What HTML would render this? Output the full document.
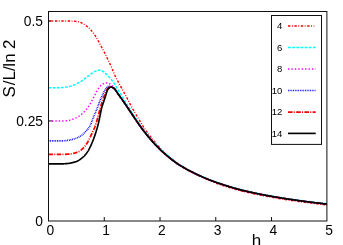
<!DOCTYPE html>
<html><head><meta charset="utf-8"><title>plot</title>
<style>
html,body{margin:0;padding:0;background:#fff;overflow:hidden}
body{width:343px;height:245px;position:relative}
svg text{font-family:"Liberation Sans",sans-serif;fill:#000}
</style></head><body>
<svg width="343" height="245" viewBox="0 0 343 245" style="position:absolute;left:0;top:0;will-change:transform">
<line x1="104.26" y1="221" x2="104.26" y2="217" stroke="#111" stroke-width="1"/>
<line x1="160.02" y1="221" x2="160.02" y2="217" stroke="#111" stroke-width="1"/>
<line x1="215.78" y1="221" x2="215.78" y2="217" stroke="#111" stroke-width="1"/>
<line x1="271.54" y1="221" x2="271.54" y2="217" stroke="#111" stroke-width="1"/>
<line x1="48.5" y1="120.95" x2="52.5" y2="120.95" stroke="#111" stroke-width="1"/>
<line x1="48.5" y1="21.00" x2="52.5" y2="21.00" stroke="#111" stroke-width="1"/>
<clipPath id="c"><rect x="48.5" y="11" width="278.4" height="211"/></clipPath>
<g clip-path="url(#c)">
<path d="M48.5,21.00 L49.0,21.00 L49.5,21.00 L50.0,21.00 L50.5,21.00 L51.0,21.00 L51.5,21.00 L52.0,21.00 L52.5,21.00 L53.0,21.00 L53.5,21.00 L54.0,21.00 L54.5,21.00 L55.0,21.00 L55.5,21.00 L56.0,21.00 L56.5,21.00 L57.0,21.00 L57.5,21.00 L58.0,21.00 L58.5,21.00 L59.0,21.00 L59.5,21.00 L60.0,21.00 L60.5,21.00 L61.0,21.00 L61.5,21.00 L62.0,21.00 L62.5,21.00 L63.0,21.00 L63.5,21.00 L64.0,21.00 L64.5,21.00 L65.0,21.00 L65.5,21.00 L66.0,21.00 L66.5,21.00 L67.0,21.00 L67.5,21.01 L68.0,21.02 L68.5,21.03 L69.0,21.04 L69.5,21.06 L70.0,21.07 L70.5,21.09 L71.0,21.11 L71.5,21.13 L72.0,21.15 L72.5,21.17 L73.0,21.20 L73.5,21.22 L74.0,21.25 L74.5,21.28 L75.0,21.32 L75.5,21.36 L76.0,21.42 L76.5,21.48 L77.0,21.55 L77.5,21.62 L78.0,21.71 L78.5,21.80 L79.0,21.90 L79.5,22.03 L80.0,22.21 L80.5,22.43 L81.0,22.68 L81.5,22.95 L82.0,23.23 L82.5,23.52 L83.0,23.80 L83.5,24.08 L84.0,24.37 L84.5,24.66 L85.0,24.97 L85.5,25.28 L86.0,25.61 L86.5,25.96 L87.0,26.32 L87.5,26.70 L88.0,27.10 L88.5,27.51 L89.0,27.96 L89.5,28.46 L90.0,29.00 L90.5,29.57 L91.0,30.18 L91.5,30.80 L92.0,31.44 L92.5,32.08 L93.0,32.73 L93.5,33.39 L94.0,34.06 L94.5,34.75 L95.0,35.47 L95.5,36.21 L96.0,36.97 L96.5,37.75 L97.0,38.57 L97.5,39.43 L98.0,40.35 L98.5,41.31 L99.0,42.28 L99.5,43.26 L100.0,44.23 L100.5,45.17 L101.0,46.10 L101.5,47.03 L102.0,47.95 L102.5,48.88 L103.0,49.82 L103.5,50.77 L104.0,51.72 L104.5,52.67 L105.0,53.63 L105.5,54.61 L106.0,55.60 L106.5,56.60 L107.0,57.64 L107.5,58.69 L108.0,59.76 L108.5,60.84 L109.0,61.92 L109.5,63.00 L110.0,64.07 L110.5,65.13 L111.0,66.21 L111.5,67.30 L112.0,68.43 L112.5,69.61 L113.0,70.81 L113.5,72.00 L114.0,73.18 L114.5,74.36 L115.0,75.52 L115.5,76.64 L116.0,77.71 L116.5,78.72 L117.0,79.69 L117.5,80.63 L118.0,81.56 L118.5,82.47 L119.0,83.38 L119.5,84.30 L120.0,85.22 L120.5,86.13 L121.0,87.04 L121.5,87.94 L122.0,88.84 L122.5,89.74 L123.0,90.64 L123.5,91.55 L124.0,92.47 L124.5,93.39 L125.0,94.31 L125.5,95.24 L126.0,96.17 L126.5,97.11 L127.0,98.05 L127.5,99.00 L128.0,99.96 L128.5,100.94 L129.0,101.92 L129.5,102.90 L130.0,103.87 L130.5,104.81 L131.0,105.74 L131.5,106.65 L132.0,107.55 L132.5,108.44 L133.0,109.32 L133.5,110.20 L134.0,111.06 L134.5,111.92 L135.0,112.77 L135.5,113.62 L136.0,114.47 L136.5,115.32 L137.0,116.17 L137.5,117.02 L138.0,117.87 L138.5,118.71 L139.0,119.55 L139.5,120.39 L140.0,121.22 L140.5,122.05 L141.0,122.87 L141.5,123.68 L142.0,124.49 L142.5,125.28 L143.0,126.07 L143.5,126.85 L144.0,127.62 L144.5,128.38 L145.0,129.12 L145.5,129.85 L146.0,130.57 L146.5,131.28 L147.0,131.98 L147.5,132.67 L148.0,133.35 L148.5,134.02 L149.0,134.68 L149.5,135.34 L150.0,135.98 L150.5,136.63 L151.0,137.26 L151.5,137.89 L152.0,138.52 L152.5,139.13 L153.0,139.75 L153.5,140.35 L154.0,140.96 L154.5,141.56 L155.0,142.15 L155.5,142.75 L156.0,143.34 L156.5,143.92 L157.0,144.51 L157.5,145.09 L158.0,145.67 L158.5,146.25 L159.0,146.83 L159.5,147.41 L160.0,147.99 L160.5,148.57 L161.0,149.14 L161.5,149.71 L162.0,150.28 L162.5,150.83 L163.0,151.38 L163.5,151.91 L164.0,152.44 L164.5,152.95 L165.0,153.44 L165.5,153.92 L166.0,154.37 L166.5,154.79 L167.0,155.22 L167.5,155.64 L168.0,156.06 L168.5,156.48 L169.0,156.89 L169.5,157.30 L170.0,157.70 L170.5,158.10 L171.0,158.50 L171.5,158.89 L172.0,159.28 L172.5,159.66 L173.0,160.04 L173.5,160.42 L174.0,160.80 L174.5,161.18 L175.0,161.55 L175.5,161.92 L176.0,162.28 L176.5,162.64 L177.0,163.00 L177.5,163.35 L178.0,163.69 L178.5,164.03 L179.0,164.36 L179.5,164.68 L180.0,165.00 L180.5,165.31 L181.0,165.62 L181.5,165.92 L182.0,166.22 L182.5,166.52 L183.0,166.81 L183.5,167.10 L184.0,167.35 L184.5,167.68 L185.0,168.64 L185.5,168.96 L186.0,169.19 L186.5,169.46 L187.0,169.73 L187.5,170.00 L188.0,170.27 L188.5,170.53 L189.0,170.79 L189.5,171.05 L190.0,171.31 L190.5,171.56 L191.0,171.82 L191.5,172.07 L192.0,172.32 L192.5,172.57 L193.0,172.82 L193.5,173.07 L194.0,173.32 L194.5,173.56 L195.0,173.81 L195.5,174.05 L196.0,174.29 L196.5,174.53 L197.0,174.77 L197.5,175.01 L198.0,175.25 L198.5,175.48 L199.0,175.71 L199.5,175.95 L200.0,176.18 L200.5,176.40 L201.0,176.63 L201.5,176.86 L202.0,177.08 L202.5,177.30 L203.0,177.52 L203.5,177.74 L204.0,177.96 L204.5,178.17 L205.0,178.39 L205.5,178.60 L206.0,178.81 L206.5,179.02 L207.0,179.22 L207.5,179.43 L208.0,179.63 L208.5,179.83 L209.0,180.03 L209.5,180.22 L210.0,180.42 L210.5,180.61 L211.0,180.80 L211.5,180.99 L212.0,181.18 L212.5,181.36 L213.0,181.55 L213.5,181.71 L214.0,181.91 L214.5,182.39 L215.0,182.87 L215.5,183.07 L216.0,183.22 L216.5,183.40 L217.0,183.57 L217.5,183.75 L218.0,183.92 L218.5,184.09 L219.0,184.26 L219.5,184.43 L220.0,184.59 L220.5,184.76 L221.0,184.93 L221.5,185.09 L222.0,185.26 L222.5,185.42 L223.0,185.58 L223.5,185.75 L224.0,185.91 L224.5,186.07 L225.0,186.23 L225.5,186.39 L226.0,186.55 L226.5,186.71 L227.0,186.87 L227.5,187.02 L228.0,187.18 L228.5,187.34 L229.0,187.49 L229.5,187.65 L230.0,187.80 L230.5,187.95 L231.0,188.10 L231.5,188.25 L232.0,188.40 L232.5,188.55 L233.0,188.70 L233.5,188.84 L234.0,188.99 L234.5,189.13 L235.0,189.27 L235.5,189.41 L236.0,189.55 L236.5,189.69 L237.0,189.83 L237.5,189.96 L238.0,190.09 L238.5,190.23 L239.0,190.36 L239.5,190.49 L240.0,190.61 L240.5,190.74 L241.0,190.87 L241.5,190.99 L242.0,191.12 L242.5,191.24 L243.0,191.36 L243.5,191.48 L244.0,191.60 L244.5,191.72 L245.0,191.84 L245.5,191.96 L246.0,192.08 L246.5,192.19 L247.0,192.31 L247.5,192.42 L248.0,192.54 L248.5,192.65 L249.0,192.76 L249.5,192.87 L250.0,192.99 L250.5,193.10 L251.0,193.21 L251.5,193.32 L252.0,193.43 L252.5,193.53 L253.0,193.64 L253.5,193.75 L254.0,193.86 L254.5,193.96 L255.0,194.07 L255.5,194.18 L256.0,194.28 L256.5,194.38 L257.0,194.49 L257.5,194.59 L258.0,194.69 L258.5,194.80 L259.0,194.90 L259.5,195.00 L260.0,195.10 L260.5,195.20 L261.0,195.30 L261.5,195.39 L262.0,195.49 L262.5,195.59 L263.0,195.69 L263.5,195.78 L264.0,195.88 L264.5,195.97 L265.0,196.07 L265.5,196.16 L266.0,196.25 L266.5,196.35 L267.0,196.44 L267.5,196.53 L268.0,196.62 L268.5,196.72 L269.0,196.81 L269.5,196.90 L270.0,196.99 L270.5,197.08 L271.0,197.17 L271.5,197.25 L272.0,197.34 L272.5,197.43 L273.0,197.52 L273.5,197.61 L274.0,197.69 L274.5,197.78 L275.0,197.86 L275.5,197.95 L276.0,198.03 L276.5,198.12 L277.0,198.20 L277.5,198.28 L278.0,198.37 L278.5,198.45 L279.0,198.53 L279.5,198.62 L280.0,198.70 L280.5,198.78 L281.0,198.86 L281.5,198.94 L282.0,199.02 L282.5,199.10 L283.0,199.18 L283.5,199.26 L284.0,199.34 L284.5,199.41 L285.0,199.49 L285.5,199.57 L286.0,199.65 L286.5,199.72 L287.0,199.80 L287.5,199.88 L288.0,199.95 L288.5,200.03 L289.0,200.10 L289.5,200.18 L290.0,200.25 L290.5,200.33 L291.0,200.40 L291.5,200.47 L292.0,200.55 L292.5,200.62 L293.0,200.69 L293.5,200.76 L294.0,200.84 L294.5,200.91 L295.0,200.98 L295.5,201.05 L296.0,201.12 L296.5,201.19 L297.0,201.26 L297.5,201.33 L298.0,201.40 L298.5,201.47 L299.0,201.54 L299.5,201.61 L300.0,201.68 L300.5,201.74 L301.0,201.81 L301.5,201.88 L302.0,201.95 L302.5,202.01 L303.0,202.08 L303.5,202.15 L304.0,202.21 L304.5,202.28 L305.0,202.34 L305.5,202.41 L306.0,202.48 L306.5,202.54 L307.0,202.60 L307.5,202.67 L308.0,202.73 L308.5,202.80 L309.0,202.86 L309.5,202.92 L310.0,202.99 L310.5,203.05 L311.0,203.11 L311.5,203.17 L312.0,203.24 L312.5,203.30 L313.0,203.36 L313.5,203.42 L314.0,203.48 L314.5,203.54 L315.0,203.61 L315.5,203.67 L316.0,203.73 L316.5,203.79 L317.0,203.85 L317.5,203.91 L318.0,203.97 L318.5,204.02 L319.0,204.08 L319.5,204.14 L320.0,204.20 L320.5,204.26 L321.0,204.32 L321.5,204.38 L322.0,204.43 L322.5,204.49 L323.0,204.55 L323.5,204.61 L324.0,204.66 L324.5,204.72 L325.0,204.77 L325.5,204.83 L326.0,204.89 L326.5,204.94 L327.0,205.00 L327.3,205.03" fill="none" stroke="#ff0000" stroke-width="1.4" stroke-dasharray="2.4 1.5 0.9 1.6"/>
<path d="M48.5,87.80 L49.0,87.80 L49.5,87.80 L50.0,87.80 L50.5,87.80 L51.0,87.80 L51.5,87.80 L52.0,87.80 L52.5,87.80 L53.0,87.80 L53.5,87.80 L54.0,87.80 L54.5,87.80 L55.0,87.80 L55.5,87.80 L56.0,87.80 L56.5,87.80 L57.0,87.79 L57.5,87.78 L58.0,87.77 L58.5,87.75 L59.0,87.73 L59.5,87.71 L60.0,87.68 L60.5,87.65 L61.0,87.63 L61.5,87.60 L62.0,87.57 L62.5,87.53 L63.0,87.49 L63.5,87.44 L64.0,87.39 L64.5,87.33 L65.0,87.26 L65.5,87.19 L66.0,87.12 L66.5,87.04 L67.0,86.95 L67.5,86.86 L68.0,86.77 L68.5,86.68 L69.0,86.58 L69.5,86.47 L70.0,86.37 L70.5,86.25 L71.0,86.13 L71.5,85.99 L72.0,85.83 L72.5,85.65 L73.0,85.47 L73.5,85.27 L74.0,85.06 L74.5,84.84 L75.0,84.61 L75.5,84.37 L76.0,84.12 L76.5,83.87 L77.0,83.61 L77.5,83.35 L78.0,83.09 L78.5,82.82 L79.0,82.55 L79.5,82.28 L80.0,81.99 L80.5,81.68 L81.0,81.36 L81.5,81.02 L82.0,80.68 L82.5,80.32 L83.0,79.95 L83.5,79.58 L84.0,79.21 L84.5,78.83 L85.0,78.45 L85.5,78.07 L86.0,77.69 L86.5,77.32 L87.0,76.95 L87.5,76.58 L88.0,76.23 L88.5,75.87 L89.0,75.49 L89.5,75.09 L90.0,74.70 L90.5,74.30 L91.0,73.90 L91.5,73.51 L92.0,73.14 L92.5,72.77 L93.0,72.43 L93.5,72.12 L94.0,71.83 L94.5,71.58 L95.0,71.36 L95.5,71.15 L96.0,70.94 L96.5,70.74 L97.0,70.56 L97.5,70.41 L98.0,70.29 L98.5,70.22 L99.0,70.20 L99.5,70.24 L100.0,70.33 L100.5,70.46 L101.0,70.62 L101.5,70.80 L102.0,71.00 L102.5,71.20 L103.0,71.44 L103.5,71.74 L104.0,72.10 L104.5,72.50 L105.0,72.94 L105.5,73.39 L106.0,73.86 L106.5,74.33 L107.0,74.78 L107.5,75.25 L108.0,75.75 L108.5,76.26 L109.0,76.79 L109.5,77.33 L110.0,77.90 L110.5,78.48 L111.0,79.08 L111.5,79.72 L112.0,80.37 L112.5,81.05 L113.0,81.75 L113.5,82.47 L114.0,83.20 L114.5,83.96 L115.0,84.75 L115.5,85.57 L116.0,86.41 L116.5,87.26 L117.0,88.11 L117.5,88.95 L118.0,89.76 L118.5,90.56 L119.0,91.35 L119.5,92.14 L120.0,92.92 L120.5,93.70 L121.0,94.49 L121.5,95.28 L122.0,96.08 L122.5,96.89 L123.0,97.70 L123.5,98.53 L124.0,99.35 L124.5,100.19 L125.0,101.02 L125.5,101.85 L126.0,102.68 L126.5,103.51 L127.0,104.34 L127.5,105.16 L128.0,105.98 L128.5,106.80 L129.0,107.62 L129.5,108.44 L130.0,109.26 L130.5,110.07 L131.0,110.88 L131.5,111.69 L132.0,112.49 L132.5,113.28 L133.0,114.07 L133.5,114.86 L134.0,115.65 L134.5,116.43 L135.0,117.21 L135.5,117.99 L136.0,118.76 L136.5,119.53 L137.0,120.29 L137.5,121.05 L138.0,121.80 L138.5,122.54 L139.0,123.28 L139.5,124.00 L140.0,124.71 L140.5,125.40 L141.0,126.09 L141.5,126.78 L142.0,127.46 L142.5,128.14 L143.0,128.82 L143.5,129.48 L144.0,130.15 L144.5,130.80 L145.0,131.45 L145.5,132.09 L146.0,132.73 L146.5,133.36 L147.0,133.99 L147.5,134.61 L148.0,135.22 L148.5,135.84 L149.0,136.44 L149.5,137.04 L150.0,137.64 L150.5,138.23 L151.0,138.81 L151.5,139.39 L152.0,139.97 L152.5,140.53 L153.0,141.10 L153.5,141.65 L154.0,142.21 L154.5,142.75 L155.0,143.30 L155.5,143.83 L156.0,144.36 L156.5,144.89 L157.0,145.41 L157.5,145.93 L158.0,146.44 L158.5,146.94 L159.0,147.44 L159.5,147.93 L160.0,148.42 L160.5,148.91 L161.0,149.39 L161.5,149.87 L162.0,150.34 L162.5,150.81 L163.0,151.28 L163.5,151.74 L164.0,152.19 L164.5,152.64 L165.0,153.08 L165.5,153.52 L166.0,153.96 L166.5,154.39 L167.0,154.82 L167.5,155.24 L168.0,155.66 L168.5,156.08 L169.0,156.49 L169.5,156.90 L170.0,157.30 L170.5,157.70 L171.0,158.10 L171.5,158.49 L172.0,158.88 L172.5,159.26 L173.0,159.64 L173.5,160.02 L174.0,160.36 L174.5,160.78 L175.0,161.62 L175.5,162.02 L176.0,162.34 L176.5,162.70 L177.0,163.05 L177.5,163.39 L178.0,163.73 L178.5,164.06 L179.0,164.38 L179.5,164.70 L180.0,165.01 L180.5,165.32 L181.0,165.62 L181.5,165.92 L182.0,166.22 L182.5,166.51 L183.0,166.80 L183.5,167.09 L184.0,167.38 L184.5,167.66 L185.0,167.94 L185.5,168.22 L186.0,168.49 L186.5,168.76 L187.0,169.03 L187.5,169.30 L188.0,169.57 L188.5,169.83 L189.0,170.09 L189.5,170.35 L190.0,170.61 L190.5,170.86 L191.0,171.12 L191.5,171.37 L192.0,171.62 L192.5,171.87 L193.0,172.12 L193.5,172.37 L194.0,172.62 L194.5,172.86 L195.0,173.11 L195.5,173.35 L196.0,173.59 L196.5,173.83 L197.0,174.07 L197.5,174.31 L198.0,174.55 L198.5,174.78 L199.0,175.01 L199.5,175.25 L200.0,175.48 L200.5,175.70 L201.0,175.93 L201.5,176.16 L202.0,176.38 L202.5,176.60 L203.0,176.82 L203.5,177.04 L204.0,177.26 L204.5,177.47 L205.0,177.69 L205.5,177.90 L206.0,178.11 L206.5,178.32 L207.0,178.52 L207.5,178.73 L208.0,178.93 L208.5,179.13 L209.0,179.33 L209.5,179.52 L210.0,179.72 L210.5,179.91 L211.0,180.10 L211.5,180.29 L212.0,180.48 L212.5,180.66 L213.0,180.85 L213.5,181.03 L214.0,181.21 L214.5,181.39 L215.0,181.57 L215.5,181.75 L216.0,181.92 L216.5,182.10 L217.0,182.27 L217.5,182.45 L218.0,182.62 L218.5,182.79 L219.0,182.96 L219.5,183.13 L220.0,183.29 L220.5,183.46 L221.0,183.63 L221.5,183.79 L222.0,183.96 L222.5,184.12 L223.0,184.28 L223.5,184.45 L224.0,184.61 L224.5,184.77 L225.0,184.93 L225.5,185.09 L226.0,185.25 L226.5,185.41 L227.0,185.57 L227.5,185.72 L228.0,185.88 L228.5,186.04 L229.0,186.19 L229.5,186.35 L230.0,186.50 L230.5,186.65 L231.0,186.80 L231.5,186.95 L232.0,187.10 L232.5,187.25 L233.0,187.40 L233.5,187.54 L234.0,187.69 L234.5,187.83 L235.0,187.97 L235.5,188.11 L236.0,188.25 L236.5,188.39 L237.0,188.53 L237.5,188.66 L238.0,188.79 L238.5,188.93 L239.0,189.06 L239.5,189.19 L240.0,189.31 L240.5,189.44 L241.0,189.57 L241.5,189.69 L242.0,189.82 L242.5,189.94 L243.0,190.06 L243.5,190.18 L244.0,190.30 L244.5,190.42 L245.0,190.54 L245.5,190.66 L246.0,190.78 L246.5,190.89 L247.0,191.01 L247.5,191.12 L248.0,191.24 L248.5,191.35 L249.0,191.46 L249.5,191.57 L250.0,191.69 L250.5,191.80 L251.0,191.91 L251.5,192.02 L252.0,192.13 L252.5,192.23 L253.0,192.34 L253.5,192.45 L254.0,192.56 L254.5,192.66 L255.0,192.77 L255.5,192.88 L256.0,192.98 L256.5,193.08 L257.0,193.19 L257.5,193.29 L258.0,193.39 L258.5,193.50 L259.0,193.60 L259.5,193.70 L260.0,193.80 L260.5,193.90 L261.0,194.00 L261.5,194.09 L262.0,194.19 L262.5,194.29 L263.0,194.39 L263.5,194.48 L264.0,194.58 L264.5,194.67 L265.0,194.77 L265.5,194.86 L266.0,194.95 L266.5,195.05 L267.0,195.14 L267.5,195.23 L268.0,195.32 L268.5,195.42 L269.0,195.51 L269.5,195.60 L270.0,195.69 L270.5,195.78 L271.0,195.87 L271.5,195.95 L272.0,196.04 L272.5,196.13 L273.0,196.22 L273.5,196.31 L274.0,196.39 L274.5,196.48 L275.0,196.56 L275.5,196.65 L276.0,196.73 L276.5,196.82 L277.0,196.90 L277.5,196.98 L278.0,197.07 L278.5,197.15 L279.0,197.23 L279.5,197.32 L280.0,197.40 L280.5,197.48 L281.0,197.56 L281.5,197.64 L282.0,197.72 L282.5,197.80 L283.0,197.88 L283.5,197.96 L284.0,198.04 L284.5,198.11 L285.0,198.19 L285.5,198.27 L286.0,198.35 L286.5,198.42 L287.0,198.50 L287.5,198.58 L288.0,198.65 L288.5,198.73 L289.0,198.80 L289.5,198.88 L290.0,198.95 L290.5,199.03 L291.0,199.10 L291.5,199.17 L292.0,199.25 L292.5,199.32 L293.0,199.39 L293.5,199.46 L294.0,199.54 L294.5,199.61 L295.0,199.68 L295.5,199.75 L296.0,199.82 L296.5,199.89 L297.0,199.96 L297.5,200.03 L298.0,200.10 L298.5,200.17 L299.0,200.24 L299.5,200.31 L300.0,200.38 L300.5,200.44 L301.0,200.51 L301.5,200.58 L302.0,200.65 L302.5,200.71 L303.0,200.78 L303.5,200.85 L304.0,200.91 L304.5,200.98 L305.0,201.04 L305.5,201.11 L306.0,201.18 L306.5,201.24 L307.0,201.30 L307.5,201.37 L308.0,201.43 L308.5,201.50 L309.0,201.56 L309.5,201.62 L310.0,201.69 L310.5,201.75 L311.0,201.81 L311.5,201.87 L312.0,201.94 L312.5,202.00 L313.0,202.06 L313.5,202.12 L314.0,202.18 L314.5,202.24 L315.0,202.31 L315.5,202.37 L316.0,202.43 L316.5,202.49 L317.0,202.55 L317.5,202.61 L318.0,202.67 L318.5,202.72 L319.0,202.78 L319.5,202.84 L320.0,202.90 L320.5,202.96 L321.0,203.02 L321.5,203.08 L322.0,203.13 L322.5,203.19 L323.0,203.25 L323.5,203.31 L324.0,203.36 L324.5,203.42 L325.0,203.47 L325.5,203.53 L326.0,203.59 L326.5,203.64 L327.0,203.70 L327.3,203.73" fill="none" stroke="#00ffff" stroke-width="1.5" stroke-dasharray="2.7 1.45"/>
<path d="M48.5,121.00 L49.0,121.00 L49.5,121.00 L50.0,121.00 L50.5,121.00 L51.0,121.00 L51.5,121.00 L52.0,121.00 L52.5,121.00 L53.0,121.00 L53.5,121.00 L54.0,121.00 L54.5,121.00 L55.0,121.00 L55.5,121.00 L56.0,121.00 L56.5,121.00 L57.0,121.00 L57.5,121.00 L58.0,121.00 L58.5,121.00 L59.0,121.00 L59.5,121.00 L60.0,121.00 L60.5,121.00 L61.0,120.99 L61.5,120.98 L62.0,120.97 L62.5,120.95 L63.0,120.93 L63.5,120.91 L64.0,120.88 L64.5,120.85 L65.0,120.82 L65.5,120.79 L66.0,120.76 L66.5,120.72 L67.0,120.68 L67.5,120.63 L68.0,120.56 L68.5,120.47 L69.0,120.37 L69.5,120.26 L70.0,120.13 L70.5,119.99 L71.0,119.84 L71.5,119.68 L72.0,119.51 L72.5,119.33 L73.0,119.14 L73.5,118.95 L74.0,118.75 L74.5,118.55 L75.0,118.35 L75.5,118.14 L76.0,117.93 L76.5,117.69 L77.0,117.43 L77.5,117.15 L78.0,116.86 L78.5,116.54 L79.0,116.21 L79.5,115.86 L80.0,115.50 L80.5,115.12 L81.0,114.73 L81.5,114.33 L82.0,113.91 L82.5,113.49 L83.0,113.04 L83.5,112.57 L84.0,112.08 L84.5,111.55 L85.0,111.00 L85.5,110.42 L86.0,109.82 L86.5,109.20 L87.0,108.56 L87.5,107.89 L88.0,107.21 L88.5,106.51 L89.0,105.79 L89.5,105.05 L90.0,104.28 L90.5,103.44 L91.0,102.54 L91.5,101.60 L92.0,100.63 L92.5,99.63 L93.0,98.63 L93.5,97.64 L94.0,96.66 L94.5,95.71 L95.0,94.74 L95.5,93.75 L96.0,92.74 L96.5,91.76 L97.0,90.82 L97.5,89.94 L98.0,89.15 L98.5,88.43 L99.0,87.74 L99.5,87.09 L100.0,86.47 L100.5,85.90 L101.0,85.38 L101.5,84.94 L102.0,84.55 L102.5,84.20 L103.0,83.86 L103.5,83.58 L104.0,83.35 L104.5,83.20 L105.0,83.10 L105.5,83.01 L106.0,82.94 L106.5,82.90 L107.0,82.91 L107.5,82.97 L108.0,83.08 L108.5,83.20 L109.0,83.39 L109.5,83.68 L110.0,84.02 L110.5,84.37 L111.0,84.73 L111.5,85.12 L112.0,85.54 L112.5,86.00 L113.0,86.50 L113.5,87.06 L114.0,87.66 L114.5,88.30 L115.0,89.02 L115.5,89.82 L116.0,90.65 L116.5,91.46 L117.0,92.23 L117.5,92.99 L118.0,93.72 L118.5,94.44 L119.0,95.15 L119.5,95.86 L120.0,96.56 L120.5,97.25 L121.0,97.93 L121.5,98.62 L122.0,99.32 L122.5,100.03 L123.0,100.76 L123.5,101.49 L124.0,102.24 L124.5,102.99 L125.0,103.74 L125.5,104.49 L126.0,105.25 L126.5,106.00 L127.0,106.75 L127.5,107.50 L128.0,108.24 L128.5,108.99 L129.0,109.74 L129.5,110.48 L130.0,111.23 L130.5,111.97 L131.0,112.72 L131.5,113.46 L132.0,114.21 L132.5,114.95 L133.0,115.69 L133.5,116.43 L134.0,117.18 L134.5,117.92 L135.0,118.67 L135.5,119.41 L136.0,120.16 L136.5,120.90 L137.0,121.63 L137.5,122.36 L138.0,123.08 L138.5,123.80 L139.0,124.50 L139.5,125.20 L140.0,125.90 L140.5,126.59 L141.0,127.28 L141.5,127.96 L142.0,128.64 L142.5,129.32 L143.0,129.98 L143.5,130.65 L144.0,131.30 L144.5,131.95 L145.0,132.59 L145.5,133.23 L146.0,133.86 L146.5,134.49 L147.0,135.11 L147.5,135.72 L148.0,136.34 L148.5,136.94 L149.0,137.54 L149.5,138.14 L150.0,138.73 L150.5,139.31 L151.0,139.89 L151.5,140.47 L152.0,141.03 L152.5,141.60 L153.0,142.15 L153.5,142.71 L154.0,143.25 L154.5,143.80 L155.0,144.33 L155.5,144.86 L156.0,145.39 L156.5,145.91 L157.0,146.43 L157.5,146.94 L158.0,147.44 L158.5,147.94 L159.0,148.43 L159.5,148.92 L160.0,149.41 L160.5,149.89 L161.0,150.37 L161.5,150.84 L162.0,151.31 L162.5,151.78 L163.0,152.24 L163.5,152.69 L164.0,153.14 L164.5,153.58 L165.0,154.02 L165.5,154.46 L166.0,154.89 L166.5,155.32 L167.0,155.74 L167.5,156.16 L168.0,156.58 L168.5,156.99 L169.0,157.40 L169.5,157.80 L170.0,158.20 L170.5,158.60 L171.0,158.99 L171.5,159.38 L172.0,159.76 L172.5,160.14 L173.0,160.52 L173.5,160.90 L174.0,161.28 L174.5,161.65 L175.0,162.02 L175.5,162.38 L176.0,162.74 L176.5,163.10 L177.0,163.45 L177.5,163.79 L178.0,164.13 L178.5,164.46 L179.0,164.78 L179.5,165.10 L180.0,165.41 L180.5,165.72 L181.0,166.02 L181.5,166.32 L182.0,166.62 L182.5,166.91 L183.0,167.20 L183.5,167.49 L184.0,167.78 L184.5,168.06 L185.0,168.34 L185.5,168.62 L186.0,168.89 L186.5,169.16 L187.0,169.43 L187.5,169.70 L188.0,169.97 L188.5,170.23 L189.0,170.49 L189.5,170.75 L190.0,171.01 L190.5,171.26 L191.0,171.52 L191.5,171.77 L192.0,172.02 L192.5,172.27 L193.0,172.52 L193.5,172.77 L194.0,173.02 L194.5,173.26 L195.0,173.51 L195.5,173.75 L196.0,173.99 L196.5,174.23 L197.0,174.47 L197.5,174.71 L198.0,174.95 L198.5,175.18 L199.0,175.41 L199.5,175.65 L200.0,175.88 L200.5,176.10 L201.0,176.33 L201.5,176.56 L202.0,176.78 L202.5,177.00 L203.0,177.22 L203.5,177.44 L204.0,177.66 L204.5,177.87 L205.0,178.09 L205.5,178.30 L206.0,178.51 L206.5,178.72 L207.0,178.92 L207.5,179.13 L208.0,179.33 L208.5,179.53 L209.0,179.73 L209.5,179.92 L210.0,180.12 L210.5,180.31 L211.0,180.50 L211.5,180.69 L212.0,180.88 L212.5,181.06 L213.0,181.25 L213.5,181.43 L214.0,181.61 L214.5,181.79 L215.0,181.97 L215.5,182.15 L216.0,182.32 L216.5,182.50 L217.0,182.67 L217.5,182.85 L218.0,183.02 L218.5,183.19 L219.0,183.36 L219.5,183.53 L220.0,183.69 L220.5,183.86 L221.0,184.03 L221.5,184.19 L222.0,184.36 L222.5,184.52 L223.0,184.68 L223.5,184.85 L224.0,185.01 L224.5,185.17 L225.0,185.33 L225.5,185.49 L226.0,185.65 L226.5,185.81 L227.0,185.97 L227.5,186.12 L228.0,186.28 L228.5,186.44 L229.0,186.59 L229.5,186.75 L230.0,186.90 L230.5,187.05 L231.0,187.20 L231.5,187.35 L232.0,187.50 L232.5,187.65 L233.0,187.80 L233.5,187.94 L234.0,188.09 L234.5,188.23 L235.0,188.37 L235.5,188.51 L236.0,188.65 L236.5,188.79 L237.0,188.93 L237.5,189.06 L238.0,189.19 L238.5,189.33 L239.0,189.46 L239.5,189.59 L240.0,189.71 L240.5,189.84 L241.0,189.97 L241.5,190.09 L242.0,190.22 L242.5,190.34 L243.0,190.46 L243.5,190.58 L244.0,190.70 L244.5,190.82 L245.0,190.94 L245.5,191.06 L246.0,191.18 L246.5,191.29 L247.0,191.41 L247.5,191.52 L248.0,191.64 L248.5,191.75 L249.0,191.86 L249.5,191.97 L250.0,192.09 L250.5,192.20 L251.0,192.31 L251.5,192.42 L252.0,192.53 L252.5,192.63 L253.0,192.74 L253.5,192.85 L254.0,192.96 L254.5,193.06 L255.0,193.17 L255.5,193.28 L256.0,193.38 L256.5,193.48 L257.0,193.59 L257.5,193.69 L258.0,193.79 L258.5,193.90 L259.0,194.00 L259.5,194.10 L260.0,194.20 L260.5,194.30 L261.0,194.40 L261.5,194.49 L262.0,194.59 L262.5,194.69 L263.0,194.79 L263.5,194.88 L264.0,194.98 L264.5,195.07 L265.0,195.17 L265.5,195.26 L266.0,195.35 L266.5,195.45 L267.0,195.54 L267.5,195.63 L268.0,195.72 L268.5,195.82 L269.0,195.91 L269.5,196.00 L270.0,196.09 L270.5,196.18 L271.0,196.27 L271.5,196.35 L272.0,196.44 L272.5,196.53 L273.0,196.62 L273.5,196.71 L274.0,196.79 L274.5,196.88 L275.0,196.96 L275.5,197.05 L276.0,197.13 L276.5,197.22 L277.0,197.30 L277.5,197.38 L278.0,197.47 L278.5,197.55 L279.0,197.63 L279.5,197.72 L280.0,197.80 L280.5,197.88 L281.0,197.96 L281.5,198.04 L282.0,198.12 L282.5,198.20 L283.0,198.28 L283.5,198.36 L284.0,198.44 L284.5,198.51 L285.0,198.59 L285.5,198.67 L286.0,198.75 L286.5,198.82 L287.0,198.90 L287.5,198.98 L288.0,199.05 L288.5,199.13 L289.0,199.20 L289.5,199.28 L290.0,199.35 L290.5,199.43 L291.0,199.50 L291.5,199.57 L292.0,199.65 L292.5,199.72 L293.0,199.79 L293.5,199.86 L294.0,199.94 L294.5,200.01 L295.0,200.08 L295.5,200.15 L296.0,200.22 L296.5,200.29 L297.0,200.36 L297.5,200.43 L298.0,200.50 L298.5,200.57 L299.0,200.64 L299.5,200.71 L300.0,200.78 L300.5,200.84 L301.0,200.91 L301.5,200.98 L302.0,201.05 L302.5,201.11 L303.0,201.18 L303.5,201.25 L304.0,201.31 L304.5,201.38 L305.0,201.44 L305.5,201.51 L306.0,201.58 L306.5,201.64 L307.0,201.70 L307.5,201.77 L308.0,201.83 L308.5,201.90 L309.0,201.96 L309.5,202.02 L310.0,202.09 L310.5,202.15 L311.0,202.21 L311.5,202.27 L312.0,202.34 L312.5,202.40 L313.0,202.46 L313.5,202.52 L314.0,202.58 L314.5,202.64 L315.0,202.71 L315.5,202.77 L316.0,202.83 L316.5,202.89 L317.0,202.95 L317.5,203.01 L318.0,203.07 L318.5,203.12 L319.0,203.18 L319.5,203.24 L320.0,203.30 L320.5,203.36 L321.0,203.42 L321.5,203.48 L322.0,203.53 L322.5,203.59 L323.0,203.65 L323.5,203.71 L324.0,203.76 L324.5,203.82 L325.0,203.87 L325.5,203.93 L326.0,203.99 L326.5,204.04 L327.0,204.10 L327.3,204.13" fill="none" stroke="#ff00ff" stroke-width="1.5" stroke-dasharray="1.4 2.02"/>
<path d="M48.5,140.90 L49.0,140.90 L49.5,140.90 L50.0,140.90 L50.5,140.90 L51.0,140.90 L51.5,140.90 L52.0,140.90 L52.5,140.90 L53.0,140.90 L53.5,140.90 L54.0,140.90 L54.5,140.90 L55.0,140.90 L55.5,140.90 L56.0,140.90 L56.5,140.90 L57.0,140.90 L57.5,140.90 L58.0,140.90 L58.5,140.90 L59.0,140.89 L59.5,140.89 L60.0,140.88 L60.5,140.87 L61.0,140.86 L61.5,140.84 L62.0,140.83 L62.5,140.81 L63.0,140.79 L63.5,140.77 L64.0,140.75 L64.5,140.72 L65.0,140.70 L65.5,140.67 L66.0,140.63 L66.5,140.58 L67.0,140.51 L67.5,140.44 L68.0,140.36 L68.5,140.27 L69.0,140.18 L69.5,140.08 L70.0,139.97 L70.5,139.85 L71.0,139.73 L71.5,139.61 L72.0,139.48 L72.5,139.35 L73.0,139.22 L73.5,139.08 L74.0,138.94 L74.5,138.80 L75.0,138.64 L75.5,138.46 L76.0,138.28 L76.5,138.08 L77.0,137.87 L77.5,137.65 L78.0,137.42 L78.5,137.17 L79.0,136.92 L79.5,136.65 L80.0,136.37 L80.5,136.08 L81.0,135.78 L81.5,135.44 L82.0,135.07 L82.5,134.66 L83.0,134.23 L83.5,133.77 L84.0,133.29 L84.5,132.79 L85.0,132.28 L85.5,131.75 L86.0,131.21 L86.5,130.66 L87.0,130.10 L87.5,129.51 L88.0,128.89 L88.5,128.23 L89.0,127.52 L89.5,126.74 L90.0,125.90 L90.5,124.90 L91.0,123.72 L91.5,122.41 L92.0,121.04 L92.5,119.66 L93.0,118.35 L93.5,117.12 L94.0,115.91 L94.5,114.71 L95.0,113.53 L95.5,112.34 L96.0,111.14 L96.5,109.92 L97.0,108.68 L97.5,107.40 L98.0,106.06 L98.5,104.66 L99.0,103.29 L99.5,101.99 L100.0,100.72 L100.5,99.48 L101.0,98.27 L101.5,97.09 L102.0,95.97 L102.5,94.89 L103.0,93.83 L103.5,92.78 L104.0,91.78 L104.5,90.83 L105.0,89.96 L105.5,89.20 L106.0,88.50 L106.5,87.85 L107.0,87.30 L107.5,86.90 L108.0,86.59 L108.5,86.33 L109.0,86.20 L109.5,86.23 L110.0,86.33 L110.5,86.47 L111.0,86.67 L111.5,86.96 L112.0,87.25 L112.5,87.47 L113.0,87.70 L113.5,88.02 L114.0,88.40 L114.5,88.86 L115.0,89.40 L115.5,90.01 L116.0,90.69 L116.5,91.45 L117.0,92.25 L117.5,92.99 L118.0,93.72 L118.5,94.44 L119.0,95.15 L119.5,95.86 L120.0,96.56 L120.5,97.25 L121.0,97.93 L121.5,98.62 L122.0,99.32 L122.5,100.03 L123.0,100.76 L123.5,101.49 L124.0,102.24 L124.5,102.99 L125.0,103.74 L125.5,104.49 L126.0,105.25 L126.5,106.00 L127.0,106.75 L127.5,107.50 L128.0,108.24 L128.5,108.99 L129.0,109.74 L129.5,110.48 L130.0,111.23 L130.5,111.97 L131.0,112.72 L131.5,113.46 L132.0,114.21 L132.5,114.95 L133.0,115.69 L133.5,116.43 L134.0,117.18 L134.5,117.92 L135.0,118.67 L135.5,119.41 L136.0,120.16 L136.5,120.90 L137.0,121.63 L137.5,122.36 L138.0,123.08 L138.5,123.80 L139.0,124.50 L139.5,125.21 L140.0,125.90 L140.5,126.59 L141.0,127.28 L141.5,127.96 L142.0,128.64 L142.5,129.32 L143.0,129.98 L143.5,130.65 L144.0,131.30 L144.5,131.95 L145.0,132.59 L145.5,133.23 L146.0,133.86 L146.5,134.49 L147.0,135.11 L147.5,135.72 L148.0,136.34 L148.5,136.94 L149.0,137.54 L149.5,138.14 L150.0,138.73 L150.5,139.31 L151.0,139.89 L151.5,140.47 L152.0,141.03 L152.5,141.60 L153.0,142.15 L153.5,142.71 L154.0,143.25 L154.5,143.80 L155.0,144.33 L155.5,144.86 L156.0,145.39 L156.5,145.91 L157.0,146.43 L157.5,146.94 L158.0,147.44 L158.5,147.94 L159.0,148.43 L159.5,148.92 L160.0,149.41 L160.5,149.89 L161.0,150.37 L161.5,150.84 L162.0,151.31 L162.5,151.78 L163.0,152.24 L163.5,152.69 L164.0,153.14 L164.5,153.58 L165.0,154.02 L165.5,154.46 L166.0,154.89 L166.5,155.32 L167.0,155.74 L167.5,156.16 L168.0,156.58 L168.5,156.99 L169.0,157.40 L169.5,157.80 L170.0,158.20 L170.5,158.60 L171.0,158.99 L171.5,159.38 L172.0,159.76 L172.5,160.14 L173.0,160.52 L173.5,160.90 L174.0,161.28 L174.5,161.65 L175.0,162.02 L175.5,162.38 L176.0,162.74 L176.5,163.10 L177.0,163.45 L177.5,163.79 L178.0,164.13 L178.5,164.46 L179.0,164.78 L179.5,165.10 L180.0,165.41 L180.5,165.72 L181.0,166.02 L181.5,166.32 L182.0,166.62 L182.5,166.91 L183.0,167.20 L183.5,167.49 L184.0,167.78 L184.5,168.06 L185.0,168.34 L185.5,168.62 L186.0,168.89 L186.5,169.16 L187.0,169.43 L187.5,169.70 L188.0,169.97 L188.5,170.23 L189.0,170.49 L189.5,170.75 L190.0,171.01 L190.5,171.26 L191.0,171.52 L191.5,171.77 L192.0,172.02 L192.5,172.27 L193.0,172.52 L193.5,172.77 L194.0,173.02 L194.5,173.26 L195.0,173.51 L195.5,173.75 L196.0,173.99 L196.5,174.23 L197.0,174.47 L197.5,174.71 L198.0,174.95 L198.5,175.18 L199.0,175.41 L199.5,175.65 L200.0,175.88 L200.5,176.10 L201.0,176.33 L201.5,176.56 L202.0,176.78 L202.5,177.00 L203.0,177.22 L203.5,177.44 L204.0,177.66 L204.5,177.87 L205.0,178.09 L205.5,178.30 L206.0,178.51 L206.5,178.72 L207.0,178.92 L207.5,179.13 L208.0,179.33 L208.5,179.53 L209.0,179.73 L209.5,179.92 L210.0,180.12 L210.5,180.31 L211.0,180.50 L211.5,180.69 L212.0,180.88 L212.5,181.06 L213.0,181.25 L213.5,181.43 L214.0,181.61 L214.5,181.79 L215.0,181.97 L215.5,182.15 L216.0,182.32 L216.5,182.50 L217.0,182.67 L217.5,182.85 L218.0,183.02 L218.5,183.19 L219.0,183.36 L219.5,183.53 L220.0,183.69 L220.5,183.86 L221.0,184.03 L221.5,184.19 L222.0,184.36 L222.5,184.52 L223.0,184.68 L223.5,184.85 L224.0,185.01 L224.5,185.17 L225.0,185.33 L225.5,185.49 L226.0,185.65 L226.5,185.81 L227.0,185.97 L227.5,186.12 L228.0,186.28 L228.5,186.44 L229.0,186.59 L229.5,186.75 L230.0,186.90 L230.5,187.05 L231.0,187.20 L231.5,187.35 L232.0,187.50 L232.5,187.65 L233.0,187.80 L233.5,187.94 L234.0,188.09 L234.5,188.23 L235.0,188.37 L235.5,188.51 L236.0,188.65 L236.5,188.79 L237.0,188.93 L237.5,189.06 L238.0,189.19 L238.5,189.33 L239.0,189.46 L239.5,189.59 L240.0,189.71 L240.5,189.84 L241.0,189.97 L241.5,190.09 L242.0,190.22 L242.5,190.34 L243.0,190.46 L243.5,190.58 L244.0,190.70 L244.5,190.82 L245.0,190.94 L245.5,191.06 L246.0,191.18 L246.5,191.29 L247.0,191.41 L247.5,191.52 L248.0,191.64 L248.5,191.75 L249.0,191.86 L249.5,191.97 L250.0,192.09 L250.5,192.20 L251.0,192.31 L251.5,192.42 L252.0,192.53 L252.5,192.63 L253.0,192.74 L253.5,192.85 L254.0,192.96 L254.5,193.06 L255.0,193.17 L255.5,193.28 L256.0,193.38 L256.5,193.48 L257.0,193.59 L257.5,193.69 L258.0,193.79 L258.5,193.90 L259.0,194.00 L259.5,194.10 L260.0,194.20 L260.5,194.30 L261.0,194.40 L261.5,194.49 L262.0,194.59 L262.5,194.69 L263.0,194.79 L263.5,194.88 L264.0,194.98 L264.5,195.07 L265.0,195.17 L265.5,195.26 L266.0,195.35 L266.5,195.45 L267.0,195.54 L267.5,195.63 L268.0,195.72 L268.5,195.82 L269.0,195.91 L269.5,196.00 L270.0,196.09 L270.5,196.18 L271.0,196.27 L271.5,196.35 L272.0,196.44 L272.5,196.53 L273.0,196.62 L273.5,196.71 L274.0,196.79 L274.5,196.88 L275.0,196.96 L275.5,197.05 L276.0,197.13 L276.5,197.22 L277.0,197.30 L277.5,197.38 L278.0,197.47 L278.5,197.55 L279.0,197.63 L279.5,197.72 L280.0,197.80 L280.5,197.88 L281.0,197.96 L281.5,198.04 L282.0,198.12 L282.5,198.20 L283.0,198.28 L283.5,198.36 L284.0,198.44 L284.5,198.51 L285.0,198.59 L285.5,198.67 L286.0,198.75 L286.5,198.82 L287.0,198.90 L287.5,198.98 L288.0,199.05 L288.5,199.13 L289.0,199.20 L289.5,199.28 L290.0,199.35 L290.5,199.43 L291.0,199.50 L291.5,199.57 L292.0,199.65 L292.5,199.72 L293.0,199.79 L293.5,199.86 L294.0,199.94 L294.5,200.01 L295.0,200.08 L295.5,200.15 L296.0,200.22 L296.5,200.29 L297.0,200.36 L297.5,200.43 L298.0,200.50 L298.5,200.57 L299.0,200.64 L299.5,200.71 L300.0,200.78 L300.5,200.84 L301.0,200.91 L301.5,200.98 L302.0,201.05 L302.5,201.11 L303.0,201.18 L303.5,201.25 L304.0,201.31 L304.5,201.38 L305.0,201.44 L305.5,201.51 L306.0,201.58 L306.5,201.64 L307.0,201.70 L307.5,201.77 L308.0,201.83 L308.5,201.90 L309.0,201.96 L309.5,202.02 L310.0,202.09 L310.5,202.15 L311.0,202.21 L311.5,202.27 L312.0,202.34 L312.5,202.40 L313.0,202.46 L313.5,202.52 L314.0,202.58 L314.5,202.64 L315.0,202.71 L315.5,202.77 L316.0,202.83 L316.5,202.89 L317.0,202.95 L317.5,203.01 L318.0,203.07 L318.5,203.12 L319.0,203.18 L319.5,203.24 L320.0,203.30 L320.5,203.36 L321.0,203.42 L321.5,203.48 L322.0,203.53 L322.5,203.59 L323.0,203.65 L323.5,203.71 L324.0,203.76 L324.5,203.82 L325.0,203.87 L325.5,203.93 L326.0,203.99 L326.5,204.04 L327.0,204.10 L327.3,204.13" fill="none" stroke="#0000ff" stroke-width="1.65" stroke-dasharray="0.85 0.85"/>
<path d="M48.5,154.40 L49.0,154.40 L49.5,154.40 L50.0,154.40 L50.5,154.40 L51.0,154.40 L51.5,154.40 L52.0,154.40 L52.5,154.40 L53.0,154.40 L53.5,154.40 L54.0,154.40 L54.5,154.40 L55.0,154.40 L55.5,154.40 L56.0,154.40 L56.5,154.40 L57.0,154.40 L57.5,154.40 L58.0,154.40 L58.5,154.40 L59.0,154.40 L59.5,154.40 L60.0,154.40 L60.5,154.40 L61.0,154.40 L61.5,154.40 L62.0,154.40 L62.5,154.40 L63.0,154.39 L63.5,154.38 L64.0,154.36 L64.5,154.35 L65.0,154.32 L65.5,154.30 L66.0,154.27 L66.5,154.24 L67.0,154.21 L67.5,154.18 L68.0,154.14 L68.5,154.11 L69.0,154.07 L69.5,154.02 L70.0,153.97 L70.5,153.90 L71.0,153.83 L71.5,153.75 L72.0,153.67 L72.5,153.57 L73.0,153.47 L73.5,153.36 L74.0,153.25 L74.5,153.12 L75.0,152.99 L75.5,152.85 L76.0,152.71 L76.5,152.56 L77.0,152.40 L77.5,152.23 L78.0,152.03 L78.5,151.78 L79.0,151.50 L79.5,151.19 L80.0,150.84 L80.5,150.47 L81.0,150.07 L81.5,149.65 L82.0,149.21 L82.5,148.75 L83.0,148.28 L83.5,147.80 L84.0,147.28 L84.5,146.71 L85.0,146.08 L85.5,145.41 L86.0,144.70 L86.5,143.94 L87.0,143.16 L87.5,142.36 L88.0,141.53 L88.5,140.64 L89.0,139.68 L89.5,138.67 L90.0,137.61 L90.5,136.54 L91.0,135.46 L91.5,134.39 L92.0,133.34 L92.5,132.30 L93.0,131.24 L93.5,130.16 L94.0,129.02 L94.5,127.82 L95.0,126.53 L95.5,125.10 L96.0,123.55 L96.5,121.93 L97.0,120.25 L97.5,118.49 L98.0,116.65 L98.5,114.77 L99.0,112.87 L99.5,110.97 L100.0,109.11 L100.5,107.30 L101.0,105.56 L101.5,103.93 L102.0,102.35 L102.5,100.83 L103.0,99.34 L103.5,97.89 L104.0,96.44 L104.5,95.03 L105.0,93.69 L105.5,92.49 L106.0,91.35 L106.5,90.35 L107.0,89.52 L107.5,88.79 L108.0,88.20 L108.5,87.73 L109.0,87.35 L109.5,87.10 L110.0,86.96 L110.5,86.90 L111.0,86.99 L111.5,87.14 L112.0,87.27 L112.5,87.44 L113.0,87.69 L113.5,88.01 L114.0,88.40 L114.5,88.86 L115.0,89.39 L115.5,90.00 L116.0,90.70 L116.5,91.46 L117.0,92.23 L117.5,92.99 L118.0,93.72 L118.5,94.44 L119.0,95.15 L119.5,95.86 L120.0,96.56 L120.5,97.25 L121.0,97.93 L121.5,98.62 L122.0,99.32 L122.5,100.03 L123.0,100.76 L123.5,101.49 L124.0,102.24 L124.5,102.99 L125.0,103.74 L125.5,104.49 L126.0,105.25 L126.5,106.00 L127.0,106.75 L127.5,107.50 L128.0,108.24 L128.5,108.99 L129.0,109.74 L129.5,110.48 L130.0,111.23 L130.5,111.97 L131.0,112.72 L131.5,113.46 L132.0,114.21 L132.5,114.95 L133.0,115.69 L133.5,116.43 L134.0,117.18 L134.5,117.92 L135.0,118.67 L135.5,119.41 L136.0,120.16 L136.5,120.90 L137.0,121.63 L137.5,122.36 L138.0,123.08 L138.5,123.80 L139.0,124.50 L139.5,125.20 L140.0,125.90 L140.5,126.59 L141.0,127.28 L141.5,127.96 L142.0,128.64 L142.5,129.32 L143.0,129.98 L143.5,130.65 L144.0,131.30 L144.5,131.95 L145.0,132.59 L145.5,133.23 L146.0,133.86 L146.5,134.49 L147.0,135.11 L147.5,135.72 L148.0,136.34 L148.5,136.94 L149.0,137.54 L149.5,138.14 L150.0,138.73 L150.5,139.31 L151.0,139.89 L151.5,140.47 L152.0,141.03 L152.5,141.60 L153.0,142.15 L153.5,142.71 L154.0,143.25 L154.5,143.80 L155.0,144.33 L155.5,144.86 L156.0,145.39 L156.5,145.91 L157.0,146.43 L157.5,146.94 L158.0,147.44 L158.5,147.94 L159.0,148.43 L159.5,148.92 L160.0,149.41 L160.5,149.89 L161.0,150.37 L161.5,150.84 L162.0,151.31 L162.5,151.78 L163.0,152.24 L163.5,152.69 L164.0,153.14 L164.5,153.58 L165.0,154.02 L165.5,154.46 L166.0,154.89 L166.5,155.32 L167.0,155.74 L167.5,156.16 L168.0,156.58 L168.5,156.99 L169.0,157.40 L169.5,157.80 L170.0,158.20 L170.5,158.60 L171.0,158.99 L171.5,159.38 L172.0,159.76 L172.5,160.14 L173.0,160.52 L173.5,160.90 L174.0,161.28 L174.5,161.65 L175.0,162.02 L175.5,162.38 L176.0,162.74 L176.5,163.10 L177.0,163.45 L177.5,163.79 L178.0,164.13 L178.5,164.46 L179.0,164.78 L179.5,165.10 L180.0,165.41 L180.5,165.72 L181.0,166.02 L181.5,166.32 L182.0,166.62 L182.5,166.91 L183.0,167.20 L183.5,167.49 L184.0,167.78 L184.5,168.06 L185.0,168.34 L185.5,168.62 L186.0,168.89 L186.5,169.16 L187.0,169.43 L187.5,169.70 L188.0,169.97 L188.5,170.23 L189.0,170.49 L189.5,170.75 L190.0,171.01 L190.5,171.26 L191.0,171.52 L191.5,171.77 L192.0,172.02 L192.5,172.27 L193.0,172.52 L193.5,172.77 L194.0,173.02 L194.5,173.26 L195.0,173.51 L195.5,173.75 L196.0,173.99 L196.5,174.23 L197.0,174.47 L197.5,174.71 L198.0,174.95 L198.5,175.18 L199.0,175.41 L199.5,175.65 L200.0,175.88 L200.5,176.10 L201.0,176.33 L201.5,176.56 L202.0,176.78 L202.5,177.00 L203.0,177.22 L203.5,177.44 L204.0,177.66 L204.5,177.87 L205.0,178.09 L205.5,178.30 L206.0,178.51 L206.5,178.72 L207.0,178.92 L207.5,179.13 L208.0,179.33 L208.5,179.53 L209.0,179.73 L209.5,179.92 L210.0,180.12 L210.5,180.31 L211.0,180.50 L211.5,180.69 L212.0,180.88 L212.5,181.06 L213.0,181.25 L213.5,181.43 L214.0,181.61 L214.5,181.79 L215.0,181.97 L215.5,182.15 L216.0,182.32 L216.5,182.50 L217.0,182.67 L217.5,182.85 L218.0,183.02 L218.5,183.19 L219.0,183.36 L219.5,183.53 L220.0,183.69 L220.5,183.86 L221.0,184.03 L221.5,184.19 L222.0,184.36 L222.5,184.52 L223.0,184.68 L223.5,184.85 L224.0,185.01 L224.5,185.17 L225.0,185.33 L225.5,185.49 L226.0,185.65 L226.5,185.81 L227.0,185.97 L227.5,186.12 L228.0,186.28 L228.5,186.44 L229.0,186.59 L229.5,186.75 L230.0,186.90 L230.5,187.05 L231.0,187.20 L231.5,187.35 L232.0,187.50 L232.5,187.65 L233.0,187.80 L233.5,187.94 L234.0,188.09 L234.5,188.23 L235.0,188.37 L235.5,188.51 L236.0,188.65 L236.5,188.79 L237.0,188.93 L237.5,189.06 L238.0,189.19 L238.5,189.33 L239.0,189.46 L239.5,189.59 L240.0,189.71 L240.5,189.84 L241.0,189.97 L241.5,190.09 L242.0,190.22 L242.5,190.34 L243.0,190.46 L243.5,190.58 L244.0,190.70 L244.5,190.82 L245.0,190.94 L245.5,191.06 L246.0,191.18 L246.5,191.29 L247.0,191.41 L247.5,191.52 L248.0,191.64 L248.5,191.75 L249.0,191.86 L249.5,191.97 L250.0,192.09 L250.5,192.20 L251.0,192.31 L251.5,192.42 L252.0,192.53 L252.5,192.63 L253.0,192.74 L253.5,192.85 L254.0,192.96 L254.5,193.06 L255.0,193.17 L255.5,193.28 L256.0,193.38 L256.5,193.48 L257.0,193.59 L257.5,193.69 L258.0,193.79 L258.5,193.90 L259.0,194.00 L259.5,194.10 L260.0,194.20 L260.5,194.30 L261.0,194.40 L261.5,194.49 L262.0,194.59 L262.5,194.69 L263.0,194.79 L263.5,194.88 L264.0,194.98 L264.5,195.07 L265.0,195.17 L265.5,195.26 L266.0,195.35 L266.5,195.45 L267.0,195.54 L267.5,195.63 L268.0,195.72 L268.5,195.82 L269.0,195.91 L269.5,196.00 L270.0,196.09 L270.5,196.18 L271.0,196.27 L271.5,196.35 L272.0,196.44 L272.5,196.53 L273.0,196.62 L273.5,196.71 L274.0,196.79 L274.5,196.88 L275.0,196.96 L275.5,197.05 L276.0,197.13 L276.5,197.22 L277.0,197.30 L277.5,197.38 L278.0,197.47 L278.5,197.55 L279.0,197.63 L279.5,197.72 L280.0,197.80 L280.5,197.88 L281.0,197.96 L281.5,198.04 L282.0,198.12 L282.5,198.20 L283.0,198.28 L283.5,198.36 L284.0,198.44 L284.5,198.51 L285.0,198.59 L285.5,198.67 L286.0,198.75 L286.5,198.82 L287.0,198.90 L287.5,198.98 L288.0,199.05 L288.5,199.13 L289.0,199.20 L289.5,199.28 L290.0,199.35 L290.5,199.43 L291.0,199.50 L291.5,199.57 L292.0,199.65 L292.5,199.72 L293.0,199.79 L293.5,199.86 L294.0,199.94 L294.5,200.01 L295.0,200.08 L295.5,200.15 L296.0,200.22 L296.5,200.29 L297.0,200.36 L297.5,200.43 L298.0,200.50 L298.5,200.57 L299.0,200.64 L299.5,200.71 L300.0,200.78 L300.5,200.84 L301.0,200.91 L301.5,200.98 L302.0,201.05 L302.5,201.11 L303.0,201.18 L303.5,201.25 L304.0,201.31 L304.5,201.38 L305.0,201.44 L305.5,201.51 L306.0,201.58 L306.5,201.64 L307.0,201.70 L307.5,201.77 L308.0,201.83 L308.5,201.90 L309.0,201.96 L309.5,202.02 L310.0,202.09 L310.5,202.15 L311.0,202.21 L311.5,202.27 L312.0,202.34 L312.5,202.40 L313.0,202.46 L313.5,202.52 L314.0,202.58 L314.5,202.64 L315.0,202.71 L315.5,202.77 L316.0,202.83 L316.5,202.89 L317.0,202.95 L317.5,203.01 L318.0,203.07 L318.5,203.12 L319.0,203.18 L319.5,203.24 L320.0,203.30 L320.5,203.36 L321.0,203.42 L321.5,203.48 L322.0,203.53 L322.5,203.59 L323.0,203.65 L323.5,203.71 L324.0,203.76 L324.5,203.82 L325.0,203.87 L325.5,203.93 L326.0,203.99 L326.5,204.04 L327.0,204.10 L327.3,204.13" fill="none" stroke="#ff0000" stroke-width="1.75" stroke-dasharray="4.6 1.2 1.0 1.4"/>
<path d="M48.5,163.90 L49.0,163.90 L49.5,163.90 L50.0,163.90 L50.5,163.90 L51.0,163.90 L51.5,163.90 L52.0,163.90 L52.5,163.90 L53.0,163.90 L53.5,163.90 L54.0,163.90 L54.5,163.90 L55.0,163.90 L55.5,163.90 L56.0,163.90 L56.5,163.90 L57.0,163.90 L57.5,163.90 L58.0,163.90 L58.5,163.90 L59.0,163.90 L59.5,163.90 L60.0,163.90 L60.5,163.90 L61.0,163.89 L61.5,163.88 L62.0,163.87 L62.5,163.85 L63.0,163.83 L63.5,163.81 L64.0,163.78 L64.5,163.75 L65.0,163.72 L65.5,163.69 L66.0,163.66 L66.5,163.62 L67.0,163.59 L67.5,163.54 L68.0,163.49 L68.5,163.43 L69.0,163.36 L69.5,163.28 L70.0,163.20 L70.5,163.11 L71.0,163.01 L71.5,162.90 L72.0,162.79 L72.5,162.67 L73.0,162.54 L73.5,162.41 L74.0,162.28 L74.5,162.13 L75.0,161.98 L75.5,161.83 L76.0,161.67 L76.5,161.47 L77.0,161.26 L77.5,161.01 L78.0,160.75 L78.5,160.46 L79.0,160.15 L79.5,159.83 L80.0,159.49 L80.5,159.13 L81.0,158.76 L81.5,158.38 L82.0,157.98 L82.5,157.58 L83.0,157.16 L83.5,156.71 L84.0,156.22 L84.5,155.70 L85.0,155.14 L85.5,154.56 L86.0,153.94 L86.5,153.29 L87.0,152.60 L87.5,151.89 L88.0,151.15 L88.5,150.34 L89.0,149.45 L89.5,148.49 L90.0,147.47 L90.5,146.40 L91.0,145.29 L91.5,144.14 L92.0,142.97 L92.5,141.78 L93.0,140.52 L93.5,139.20 L94.0,137.83 L94.5,136.41 L95.0,134.94 L95.5,133.42 L96.0,131.88 L96.5,130.28 L97.0,128.62 L97.5,126.89 L98.0,125.05 L98.5,123.10 L99.0,120.87 L99.5,118.40 L100.0,115.81 L100.5,113.22 L101.0,110.76 L101.5,108.55 L102.0,106.71 L102.5,105.15 L103.0,103.73 L103.5,102.30 L104.0,100.79 L104.5,99.27 L105.0,97.74 L105.5,96.20 L106.0,94.52 L106.5,92.76 L107.0,91.18 L107.5,90.01 L108.0,89.25 L108.5,88.62 L109.0,88.10 L109.5,87.66 L110.0,87.36 L110.5,87.19 L111.0,87.10 L111.5,87.14 L112.0,87.25 L112.5,87.43 L113.0,87.70 L113.5,88.01 L114.0,88.40 L114.5,88.86 L115.0,89.40 L115.5,90.01 L116.0,90.69 L116.5,91.45 L117.0,92.25 L117.5,92.99 L118.0,93.72 L118.5,94.44 L119.0,95.15 L119.5,95.86 L120.0,96.56 L120.5,97.25 L121.0,97.93 L121.5,98.62 L122.0,99.32 L122.5,100.03 L123.0,100.76 L123.5,101.49 L124.0,102.24 L124.5,102.99 L125.0,103.74 L125.5,104.49 L126.0,105.25 L126.5,106.00 L127.0,106.75 L127.5,107.50 L128.0,108.24 L128.5,108.99 L129.0,109.74 L129.5,110.48 L130.0,111.23 L130.5,111.97 L131.0,112.72 L131.5,113.46 L132.0,114.21 L132.5,114.95 L133.0,115.69 L133.5,116.43 L134.0,117.18 L134.5,117.92 L135.0,118.67 L135.5,119.41 L136.0,120.16 L136.5,120.90 L137.0,121.63 L137.5,122.36 L138.0,123.08 L138.5,123.80 L139.0,124.50 L139.5,125.21 L140.0,125.90 L140.5,126.59 L141.0,127.28 L141.5,127.96 L142.0,128.64 L142.5,129.32 L143.0,129.98 L143.5,130.65 L144.0,131.30 L144.5,131.95 L145.0,132.59 L145.5,133.23 L146.0,133.86 L146.5,134.49 L147.0,135.11 L147.5,135.72 L148.0,136.34 L148.5,136.94 L149.0,137.54 L149.5,138.14 L150.0,138.73 L150.5,139.31 L151.0,139.89 L151.5,140.47 L152.0,141.03 L152.5,141.60 L153.0,142.15 L153.5,142.71 L154.0,143.25 L154.5,143.80 L155.0,144.33 L155.5,144.86 L156.0,145.39 L156.5,145.91 L157.0,146.43 L157.5,146.94 L158.0,147.44 L158.5,147.94 L159.0,148.43 L159.5,148.92 L160.0,149.41 L160.5,149.89 L161.0,150.37 L161.5,150.84 L162.0,151.31 L162.5,151.78 L163.0,152.24 L163.5,152.69 L164.0,153.14 L164.5,153.58 L165.0,154.02 L165.5,154.46 L166.0,154.89 L166.5,155.32 L167.0,155.74 L167.5,156.16 L168.0,156.58 L168.5,156.99 L169.0,157.40 L169.5,157.80 L170.0,158.20 L170.5,158.60 L171.0,158.99 L171.5,159.38 L172.0,159.76 L172.5,160.14 L173.0,160.52 L173.5,160.90 L174.0,161.28 L174.5,161.65 L175.0,162.02 L175.5,162.38 L176.0,162.74 L176.5,163.10 L177.0,163.45 L177.5,163.79 L178.0,164.13 L178.5,164.46 L179.0,164.78 L179.5,165.10 L180.0,165.41 L180.5,165.72 L181.0,166.02 L181.5,166.32 L182.0,166.62 L182.5,166.91 L183.0,167.20 L183.5,167.49 L184.0,167.78 L184.5,168.06 L185.0,168.34 L185.5,168.62 L186.0,168.89 L186.5,169.16 L187.0,169.43 L187.5,169.70 L188.0,169.97 L188.5,170.23 L189.0,170.49 L189.5,170.75 L190.0,171.01 L190.5,171.26 L191.0,171.52 L191.5,171.77 L192.0,172.02 L192.5,172.27 L193.0,172.52 L193.5,172.77 L194.0,173.02 L194.5,173.26 L195.0,173.51 L195.5,173.75 L196.0,173.99 L196.5,174.23 L197.0,174.47 L197.5,174.71 L198.0,174.95 L198.5,175.18 L199.0,175.41 L199.5,175.65 L200.0,175.88 L200.5,176.10 L201.0,176.33 L201.5,176.56 L202.0,176.78 L202.5,177.00 L203.0,177.22 L203.5,177.44 L204.0,177.66 L204.5,177.87 L205.0,178.09 L205.5,178.30 L206.0,178.51 L206.5,178.72 L207.0,178.92 L207.5,179.13 L208.0,179.33 L208.5,179.53 L209.0,179.73 L209.5,179.92 L210.0,180.12 L210.5,180.31 L211.0,180.50 L211.5,180.69 L212.0,180.88 L212.5,181.06 L213.0,181.25 L213.5,181.43 L214.0,181.61 L214.5,181.79 L215.0,181.97 L215.5,182.15 L216.0,182.32 L216.5,182.50 L217.0,182.67 L217.5,182.85 L218.0,183.02 L218.5,183.19 L219.0,183.36 L219.5,183.53 L220.0,183.69 L220.5,183.86 L221.0,184.03 L221.5,184.19 L222.0,184.36 L222.5,184.52 L223.0,184.68 L223.5,184.85 L224.0,185.01 L224.5,185.17 L225.0,185.33 L225.5,185.49 L226.0,185.65 L226.5,185.81 L227.0,185.97 L227.5,186.12 L228.0,186.28 L228.5,186.44 L229.0,186.59 L229.5,186.75 L230.0,186.90 L230.5,187.05 L231.0,187.20 L231.5,187.35 L232.0,187.50 L232.5,187.65 L233.0,187.80 L233.5,187.94 L234.0,188.09 L234.5,188.23 L235.0,188.37 L235.5,188.51 L236.0,188.65 L236.5,188.79 L237.0,188.93 L237.5,189.06 L238.0,189.19 L238.5,189.33 L239.0,189.46 L239.5,189.59 L240.0,189.71 L240.5,189.84 L241.0,189.97 L241.5,190.09 L242.0,190.22 L242.5,190.34 L243.0,190.46 L243.5,190.58 L244.0,190.70 L244.5,190.82 L245.0,190.94 L245.5,191.06 L246.0,191.18 L246.5,191.29 L247.0,191.41 L247.5,191.52 L248.0,191.64 L248.5,191.75 L249.0,191.86 L249.5,191.97 L250.0,192.09 L250.5,192.20 L251.0,192.31 L251.5,192.42 L252.0,192.53 L252.5,192.63 L253.0,192.74 L253.5,192.85 L254.0,192.96 L254.5,193.06 L255.0,193.17 L255.5,193.28 L256.0,193.38 L256.5,193.48 L257.0,193.59 L257.5,193.69 L258.0,193.79 L258.5,193.90 L259.0,194.00 L259.5,194.10 L260.0,194.20 L260.5,194.30 L261.0,194.40 L261.5,194.49 L262.0,194.59 L262.5,194.69 L263.0,194.79 L263.5,194.88 L264.0,194.98 L264.5,195.07 L265.0,195.17 L265.5,195.26 L266.0,195.35 L266.5,195.45 L267.0,195.54 L267.5,195.63 L268.0,195.72 L268.5,195.82 L269.0,195.91 L269.5,196.00 L270.0,196.09 L270.5,196.18 L271.0,196.27 L271.5,196.35 L272.0,196.44 L272.5,196.53 L273.0,196.62 L273.5,196.71 L274.0,196.79 L274.5,196.88 L275.0,196.96 L275.5,197.05 L276.0,197.13 L276.5,197.22 L277.0,197.30 L277.5,197.38 L278.0,197.47 L278.5,197.55 L279.0,197.63 L279.5,197.72 L280.0,197.80 L280.5,197.88 L281.0,197.96 L281.5,198.04 L282.0,198.12 L282.5,198.20 L283.0,198.28 L283.5,198.36 L284.0,198.44 L284.5,198.51 L285.0,198.59 L285.5,198.67 L286.0,198.75 L286.5,198.82 L287.0,198.90 L287.5,198.98 L288.0,199.05 L288.5,199.13 L289.0,199.20 L289.5,199.28 L290.0,199.35 L290.5,199.43 L291.0,199.50 L291.5,199.57 L292.0,199.65 L292.5,199.72 L293.0,199.79 L293.5,199.86 L294.0,199.94 L294.5,200.01 L295.0,200.08 L295.5,200.15 L296.0,200.22 L296.5,200.29 L297.0,200.36 L297.5,200.43 L298.0,200.50 L298.5,200.57 L299.0,200.64 L299.5,200.71 L300.0,200.78 L300.5,200.84 L301.0,200.91 L301.5,200.98 L302.0,201.05 L302.5,201.11 L303.0,201.18 L303.5,201.25 L304.0,201.31 L304.5,201.38 L305.0,201.44 L305.5,201.51 L306.0,201.58 L306.5,201.64 L307.0,201.70 L307.5,201.77 L308.0,201.83 L308.5,201.90 L309.0,201.96 L309.5,202.02 L310.0,202.09 L310.5,202.15 L311.0,202.21 L311.5,202.27 L312.0,202.34 L312.5,202.40 L313.0,202.46 L313.5,202.52 L314.0,202.58 L314.5,202.64 L315.0,202.71 L315.5,202.77 L316.0,202.83 L316.5,202.89 L317.0,202.95 L317.5,203.01 L318.0,203.07 L318.5,203.12 L319.0,203.18 L319.5,203.24 L320.0,203.30 L320.5,203.36 L321.0,203.42 L321.5,203.48 L322.0,203.53 L322.5,203.59 L323.0,203.65 L323.5,203.71 L324.0,203.76 L324.5,203.82 L325.0,203.87 L325.5,203.93 L326.0,203.99 L326.5,204.04 L327.0,204.10 L327.3,204.13" fill="none" stroke="#000000" stroke-width="1.65"/>
</g>
<rect x="48.5" y="11.5" width="278.4" height="209.5" fill="none" stroke="#111" stroke-width="1"/>
<rect x="271.5" y="15.5" width="50" height="128.9" fill="#fff" stroke="#111" stroke-width="1"/>
<line x1="288" y1="26" x2="314.3" y2="26" stroke="#ff0000" stroke-width="1.4" stroke-dasharray="2.4 1.5 0.9 1.6"/>
<text x="282.3" y="29.2" font-size="9.5" text-anchor="end">4</text>
<line x1="288" y1="47.6" x2="315.7" y2="47.6" stroke="#00ffff" stroke-width="1.5" stroke-dasharray="2.7 1.45"/>
<text x="282.3" y="50.8" font-size="9.5" text-anchor="end">6</text>
<line x1="288" y1="69" x2="315.7" y2="69" stroke="#ff00ff" stroke-width="1.5" stroke-dasharray="1.4 2.02"/>
<text x="282.3" y="72.2" font-size="9.5" text-anchor="end">8</text>
<line x1="288" y1="90.5" x2="315.7" y2="90.5" stroke="#0000ff" stroke-width="1.65" stroke-dasharray="0.85 0.85"/>
<text x="282.3" y="93.7" font-size="9.5" text-anchor="end">10</text>
<line x1="288" y1="112" x2="315.7" y2="112" stroke="#ff0000" stroke-width="1.75" stroke-dasharray="4.6 1.2 1.0 1.4"/>
<text x="282.3" y="115.2" font-size="9.5" text-anchor="end">12</text>
<line x1="288" y1="133.4" x2="315.7" y2="133.4" stroke="#000000" stroke-width="1.65"/>
<text x="282.3" y="136.6" font-size="9.5" text-anchor="end">14</text>
<text x="50.3" y="235" font-size="13.8" text-anchor="middle">0</text>
<text x="106.1" y="235" font-size="13.8" text-anchor="middle">1</text>
<text x="161.8" y="235" font-size="13.8" text-anchor="middle">2</text>
<text x="217.6" y="235" font-size="13.8" text-anchor="middle">3</text>
<text x="273.3" y="235" font-size="13.8" text-anchor="middle">4</text>
<text x="329.1" y="235" font-size="13.8" text-anchor="middle">5</text>
<text x="43" y="225.7" font-size="13.8" text-anchor="end">0</text>
<text x="43" y="125.8" font-size="13.8" text-anchor="end">0.25</text>
<text x="43" y="25.8" font-size="13.8" text-anchor="end">0.5</text>
<text transform="translate(15,97.4) rotate(-90)" font-size="17">S<tspan dx="0.9">/L/</tspan><tspan dx="-0.4">ln</tspan><tspan dx="-0.4"> 2</tspan></text>
<text x="251.8" y="245.6" font-size="17">h</text>
</svg>
</body></html>
